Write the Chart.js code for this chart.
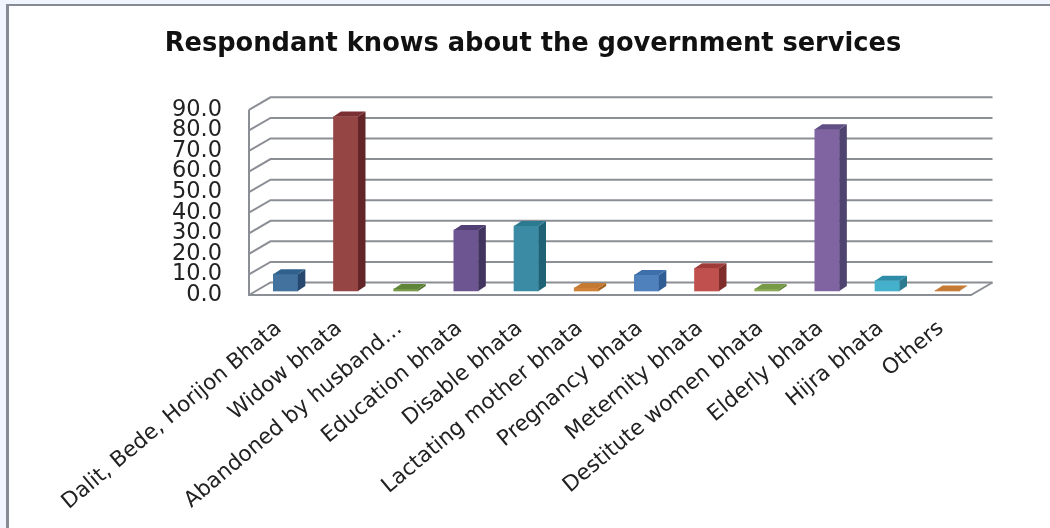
<!DOCTYPE html>
<html>
<head>
<meta charset="utf-8">
<title>Government services</title>
<script src="https://cdn.jsdelivr.net/npm/chart.js@4"></script>
<style>
  html, body { margin: 0; padding: 0; background: #f1f5fe; overflow: hidden; }
  #frame { position: absolute; left: 6px; top: 4px; width: 1044px; height: 524px; background: #fff;
           border: solid #868b96; border-width: 2px 0 0 3px; box-sizing: border-box; }
  #chart { position: absolute; left: 0; top: 0; }
</style>
</head>
<body>
<div id="frame"></div>
<canvas id="chart" width="1050" height="528"></canvas>
<script>
var categories = ['Dalit, Bede, Horijon Bhata', 'Widow bhata', 'Abandoned by husband\u2026', 'Education bhata',
  'Disable bhata', 'Lactating mother bhata', 'Pregnancy bhata', 'Meternity bhata', 'Destitute women bhata',
  'Elderly bhata', 'Hijra bhata', 'Others'];
var values = [8.2, 84.8, 1.0, 29.6, 31.6, 1.5, 7.8, 11.0, 1.0, 78.6, 5.0, 0.3];

var frontColors = ['#44729f', '#964545', '#769a4a', '#6c5590', '#3a8ba3', '#d08238', '#4f81bd', '#c0504d', '#8aaa55', '#8064a2', '#45b0cc', '#c77a3c'];
var sideColors = ['#26486f', '#632528', '#4f6f2e', '#41345f', '#1f6275', '#a3631f', '#2f5d94', '#7f2d2b', '#5f7f35', '#4f4370', '#2b7a8f', '#a3631f'];
var topColors = ['#30608c', '#7a2f33', '#5f8538', '#523f74', '#2b7a90', '#c47a32', '#3d70ab', '#9e3b38', '#769a45', '#5f4f85', '#2f8ca8', '#c47a32'];

var wallColor = '#8b8e94';
var fontFamily = '"DejaVu Sans", sans-serif';

// depth of the back wall, and where the bars stand on the floor
var wallDx = 21.5, wallDy = 12.5;
var barDx = 6.5, barDy = 4;
var sideDx = 7.5, sideDy = 5;

// floor and walls, the gridlines run from the front edge up to the back wall
var wallPlugin = {
  id: 'wall',
  beforeDatasetsDraw(chart) {
    var ctx = chart.ctx, area = chart.chartArea, y = chart.scales.y;
    ctx.save();
    ctx.strokeStyle = wallColor;
    ctx.lineWidth = 2;
    y.ticks.forEach(function(tick) {
      var py = y.getPixelForValue(tick.value);
      ctx.beginPath();
      ctx.moveTo(area.left, py);
      ctx.lineTo(area.left + wallDx, py - wallDy);
      ctx.lineTo(area.right + wallDx, py - wallDy);
      ctx.stroke();
    });
    var top = y.getPixelForValue(90), bottom = y.getPixelForValue(0);
    ctx.beginPath();
    ctx.moveTo(area.left, top);
    ctx.lineTo(area.left, bottom);
    ctx.lineTo(area.right, bottom);
    ctx.lineTo(area.right + wallDx, bottom - wallDy);
    ctx.stroke();
    ctx.restore();
  },
  // bars stand half way into the floor
  beforeDatasetDraw(chart) {
    chart.ctx.save();
    chart.ctx.translate(barDx, -barDy);
  },
  afterDatasetDraw(chart) {
    var ctx = chart.ctx;
    chart.getDatasetMeta(0).data.forEach(function(bar, i) {
      var p = bar.getProps(['x', 'y', 'base', 'width'], true);
      var l = p.x - p.width / 2, r = p.x + p.width / 2;
      ctx.fillStyle = sideColors[i];
      ctx.beginPath();
      ctx.moveTo(r, p.y);
      ctx.lineTo(r + sideDx, p.y - sideDy);
      ctx.lineTo(r + sideDx, p.base - sideDy);
      ctx.lineTo(r, p.base);
      ctx.closePath();
      ctx.fill();
      ctx.fillStyle = topColors[i];
      ctx.beginPath();
      ctx.moveTo(l, p.y);
      ctx.lineTo(l + sideDx, p.y - sideDy);
      ctx.lineTo(r + sideDx, p.y - sideDy);
      ctx.lineTo(r, p.y);
      ctx.closePath();
      ctx.fill();
    });
    ctx.restore();
  }
};

new Chart(document.getElementById('chart'), {
  type: 'bar',
  plugins: [wallPlugin],
  data: {
    labels: categories,
    datasets: [{
      data: values,
      backgroundColor: frontColors,
      barThickness: 24.5,
      clip: false
    }]
  },
  options: {
    responsive: false,
    animation: false,
    layout: { padding: { left: 95, right: 79, top: 0, bottom: 0 } },
    plugins: {
      legend: { display: false },
      tooltip: { enabled: false },
      title: {
        display: true,
        text: 'Respondant knows about the government services',
        color: '#111',
        font: { family: fontFamily, size: 25.7, weight: 'bold' },
        padding: { top: 29, bottom: 50 }
      }
    },
    scales: {
      x: {
        grid: { display: false },
        border: { display: false },
        ticks: {
          autoSkip: false,
          minRotation: 40,
          maxRotation: 40,
          padding: 13,
          color: '#222',
          font: { family: fontFamily, size: 21.5 }
        },
        afterFit(axis) { axis.height = 233; }
      },
      y: {
        min: 0,
        max: 90,
        grid: { display: false },
        border: { display: false },
        ticks: {
          autoSkip: false,
          stepSize: 10,
          padding: 19,
          color: '#222',
          font: { family: fontFamily, size: 22.5 },
          callback: function(v) { return v.toFixed(1); }
        },
        afterFit(axis) { axis.width = 154; }
      }
    }
  }
});
</script>
</body>
</html>
